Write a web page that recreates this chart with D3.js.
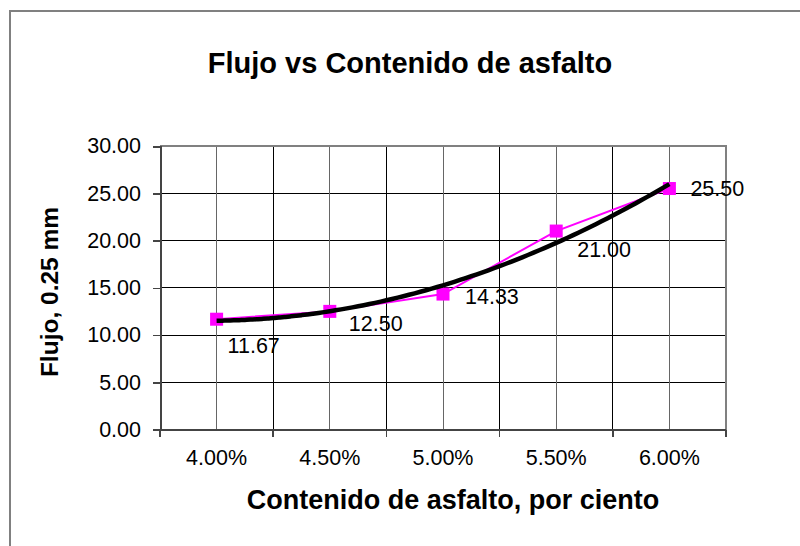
<!DOCTYPE html>
<html>
<head>
<meta charset="utf-8">
<script src="https://cdn.jsdelivr.net/npm/d3@7"></script>
<style>
  html, body { margin: 0; padding: 0; background: #fff; }
  svg { display: block; font-family: "Liberation Sans", Arial, sans-serif; }
</style>
</head>
<body>
<svg id="chart" width="800" height="546"></svg>
<script>
// Asphalt content (category axis) and measured flow
const categories = ["4.00%", "4.50%", "5.00%", "5.50%", "6.00%"];
const flujo = [11.67, 12.50, 14.33, 21.00, 25.50];
const yTicks = [0, 5, 10, 15, 20, 25, 30];

// label nudges relative to each marker (dx to left edge of text, dy to text middle)
const labelNudge = [[11, 26], [19, 12], [22, 2], [21, 18], [21, 0]];

const svg = d3.select("#chart");
const W = 800, H = 546;
const plot = { left: 160, top: 146, right: 726, bottom: 429.5 };

// outer chart frame
svg.append("rect")
  .attr("x", 10).attr("y", 11)
  .attr("width", W).attr("height", H)
  .attr("fill", "#fff").attr("stroke", "#808080").attr("stroke-width", 2);

const x = d3.scaleBand().domain(categories).range([plot.left, plot.right]).padding(0);
const y = d3.scaleLinear().domain([0, 30]).range([plot.bottom, plot.top]);
const cx = c => x(c) + x.bandwidth() / 2;

const g = svg.append("g").attr("shape-rendering", "crispEdges");

// horizontal gridlines
g.selectAll("line.hgrid").data(yTicks).join("line")
  .attr("x1", plot.left).attr("x2", plot.right)
  .attr("y1", d => y(d)).attr("y2", d => y(d))
  .attr("stroke", "#000").attr("stroke-width", 1);

// vertical gridlines at category boundaries
const bounds = categories.map(c => x(c)).concat([plot.right]);
g.selectAll("line.vb").data(bounds.slice(1, -1)).join("line")
  .attr("x1", d => d).attr("x2", d => d)
  .attr("y1", plot.top).attr("y2", plot.bottom)
  .attr("stroke", "#000").attr("stroke-width", 1);

// vertical gridlines at category centres
g.selectAll("line.vc").data(categories).join("line")
  .attr("x1", d => cx(d)).attr("x2", d => cx(d))
  .attr("y1", plot.top).attr("y2", plot.bottom)
  .attr("stroke", "#666").attr("stroke-width", 1);

// plot area border (top / right)
g.append("path")
  .attr("d", `M${plot.left},${plot.top}H${plot.right}V${plot.bottom}`)
  .attr("fill", "none").attr("stroke", "#808080").attr("stroke-width", 2);

// y axis
const yAxis = d3.axisLeft(y).tickValues(yTicks).tickFormat(d3.format(".2f")).tickSize(7).tickPadding(12);
const ya = svg.append("g").attr("transform", `translate(${plot.left},0)`).call(yAxis);
ya.attr("shape-rendering", "crispEdges");
ya.select(".domain").attr("stroke", "#444").attr("stroke-width", 2);
ya.selectAll(".tick line").attr("stroke", "#444").attr("stroke-width", 1.5);
ya.selectAll(".tick text").attr("font-size", 21.5).attr("fill", "#000")
  .attr("font-family", "Liberation Sans, Arial, sans-serif");

// x axis: ticks sit between categories
const xa = svg.append("g").attr("transform", `translate(0,${plot.bottom})`).attr("shape-rendering", "crispEdges");
xa.append("line").attr("x1", plot.left).attr("x2", plot.right)
  .attr("stroke", "#444").attr("stroke-width", 2);
xa.selectAll("line.tk").data(bounds).join("line")
  .attr("x1", d => d).attr("x2", d => d).attr("y1", 0).attr("y2", 7)
  .attr("stroke", "#444").attr("stroke-width", 1.5);
xa.selectAll("text").data(categories).join("text")
  .attr("x", d => cx(d)).attr("y", 35.5)
  .attr("text-anchor", "middle").attr("font-size", 21.5).attr("fill", "#000")
  .attr("shape-rendering", "auto")
  .text(d => d);

// series line
const pts = categories.map((c, i) => [cx(c), y(flujo[i])]);
svg.append("path").attr("d", d3.line()(pts))
  .attr("fill", "none").attr("stroke", "#FF00FF").attr("stroke-width", 2);

// second order polynomial trendline (least squares on category index 1..n)
const n = flujo.length;
const idx = d3.range(1, n + 1);
const S = k => d3.sum(idx, t => Math.pow(t, k));
const Sy = k => d3.sum(idx, (t, i) => Math.pow(t, k) * flujo[i]);
const A = [[n, S(1), S(2)], [S(1), S(2), S(3)], [S(2), S(3), S(4)]];
const B = [Sy(0), Sy(1), Sy(2)];
function solve3(M, v) {
  const m = M.map((r, i) => r.concat([v[i]]));
  for (let c = 0; c < 3; c++) {
    for (let r = c + 1; r < 3; r++) {
      const f = m[r][c] / m[c][c];
      for (let k = c; k < 4; k++) m[r][k] -= f * m[c][k];
    }
  }
  const s = [0, 0, 0];
  for (let r = 2; r >= 0; r--) {
    let acc = m[r][3];
    for (let k = r + 1; k < 3; k++) acc -= m[r][k] * s[k];
    s[r] = acc / m[r][r];
  }
  return s;
}
const coef = solve3(A, B);
const idxScale = d3.scaleLinear().domain([1, n]).range([cx(categories[0]), cx(categories[n - 1])]);
const trend = d3.range(1, n + 0.001, 0.05).map(t => [idxScale(t), y(coef[0] + coef[1] * t + coef[2] * t * t)]);

// markers
svg.selectAll("rect.mk").data(pts).join("rect")
  .attr("x", d => d[0] - 6.5).attr("y", d => d[1] - 6.5)
  .attr("width", 13).attr("height", 13).attr("fill", "#FF00FF");

// trendline drawn over the markers
svg.append("path").attr("d", d3.line().curve(d3.curveBasis)(trend))
  .attr("fill", "none").attr("stroke", "#000").attr("stroke-width", 4.5);

// data labels
svg.selectAll("text.lbl").data(flujo).join("text")
  .attr("x", (d, i) => pts[i][0] + labelNudge[i][0])
  .attr("y", (d, i) => pts[i][1] + labelNudge[i][1])
  .attr("dy", "0.35em")
  .attr("font-size", 21.5).attr("fill", "#000")
  .text(d => d3.format(".2f")(d));

// titles
svg.append("text").attr("x", 410).attr("y", 73)
  .attr("text-anchor", "middle").attr("font-size", 29).attr("font-weight", "bold")
  .text("Flujo vs Contenido de asfalto");

svg.append("text").attr("x", 453).attr("y", 509)
  .attr("text-anchor", "middle").attr("font-size", 27).attr("font-weight", "bold")
  .text("Contenido de asfalto, por ciento");

svg.append("text")
  .attr("transform", "translate(58,292) rotate(-90)")
  .attr("text-anchor", "middle").attr("font-size", 24.5).attr("font-weight", "bold")
  .text("Flujo, 0.25 mm");
</script>
</body>
</html>
